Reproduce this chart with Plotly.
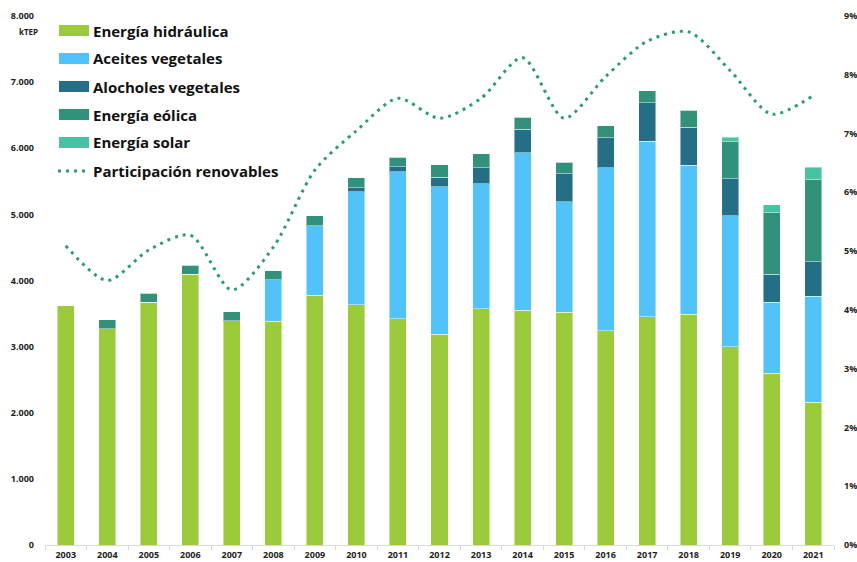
import plotly.graph_objects as go

years = [str(y) for y in range(2003, 2022)]
hidraulica = [3625, 3273, 3670, 4092, 3394, 3383, 3775, 3630, 3419, 3187, 3575, 3549, 3519, 3238, 3449, 3489, 2997, 2599, 2161]
aceites = [0, 0, 0, 0, 0, 629, 1052, 1714, 2222, 2233, 1885, 2383, 1670, 2468, 2660, 2253, 1985, 1071, 1599]
alcoholes = [0, 0, 0, 0, 0, 0, 0, 60, 80, 141, 246, 353, 427, 453, 577, 578, 558, 422, 524]
eolica = [0, 131, 141, 136, 135, 136, 150, 147, 142, 190, 211, 181, 176, 181, 181, 252, 558, 935, 1241]
solar = [0, 0, 0, 0, 0, 0, 0, 0, 0, 0, 0, 0, 0, 0, 0, 0, 71, 116, 191]
participacion = [0.0509, 0.0450, 0.0502, 0.0527, 0.0434, 0.0507, 0.0638, 0.0705, 0.0760, 0.0726, 0.0760,
                 0.0829, 0.0726, 0.0797, 0.0857, 0.0873, 0.0807, 0.0733, 0.0765]

series_names = ["Energía hidráulica", "Aceites vegetales", "Alocholes vegetales", "Energía eólica", "Energía solar"]
series_vals = [hidraulica, aceites, alcoholes, eolica, solar]
series_colors = ["#9BCB3B", "#52C3F8", "#246E86", "#31917A", "#45C3A3"]
line_name = "Participación renovables"
line_color = "#2E9A7A"
unit_label = "kTEP"

FONT = "Open Sans"
fig = go.Figure()
for name, vals, col in zip(series_names, series_vals, series_colors):
    fig.add_trace(go.Bar(x=years, y=vals, name=name, marker_color=col,
                         marker_line=dict(color="rgba(255,255,255,0.45)", width=1),
                         showlegend=False))

fig.add_trace(go.Scatter(x=years, y=participacion, name=line_name, mode="lines", yaxis="y2",
                         line=dict(color=line_color, width=3, dash="3px,5px", shape="spline", smoothing=0.8),
                         showlegend=False))

W, H = 857, 562
plot_l, plot_r, plot_t, plot_b = 45, 834, 16, 545
ml, mt, mr, mb = plot_l, plot_t, W - plot_r, H - plot_b
pw, ph = W - ml - mr, H - mt - mb

def px_to_paper(x, y):
    return (x - plot_l) / pw, 1 - (y - plot_t) / ph

shapes = []
annotations = []
centers = [30.5, 58.5, 86.5, 114.5, 142.5, 171]
legfont = dict(family=FONT, size=15, color="#111111")
for i, (name, col) in enumerate(zip(series_names, series_colors)):
    cy = centers[i]
    xa, ya = px_to_paper(59, cy - 5.5)
    xb, yb = px_to_paper(89, cy + 5.5)
    shapes.append(dict(type="rect", xref="paper", yref="paper", x0=xa, x1=xb, y0=yb, y1=ya,
                       fillcolor=col, line=dict(width=0)))
    tx, ty = px_to_paper(91, cy)
    annotations.append(dict(text="<b>" + name + "</b>", xref="paper", yref="paper", x=tx, y=ty,
                            xanchor="left", yanchor="middle", showarrow=False, font=legfont))
cy = centers[5]
xa, ya = px_to_paper(58, cy)
xb, _ = px_to_paper(88, cy)
shapes.append(dict(type="line", xref="paper", yref="paper", x0=xa, x1=xb, y0=ya, y1=ya,
                   line=dict(color=line_color, width=3, dash="3px,5px")))
tx, ty = px_to_paper(91, cy)
annotations.append(dict(text="<b>" + line_name + "</b>", xref="paper", yref="paper", x=tx, y=ty,
                        xanchor="left", yanchor="middle", showarrow=False, font=legfont))
kx, ky = px_to_paper(28, 31)
annotations.append(dict(text="<b>" + unit_label + "</b>", xref="paper", yref="paper", x=kx, y=ky,
                        xanchor="center", yanchor="middle", showarrow=False,
                        font=dict(family=FONT, size=8, color="#222222")))

tickfont = dict(family=FONT, size=9, color="#222222", weight="bold")
fig.update_layout(
    width=W, height=H,
    margin=dict(l=ml, r=mr, t=mt, b=mb, autoexpand=False),
    paper_bgcolor="white", plot_bgcolor="white",
    barmode="stack", bargap=0.59,
    separators=",.",
    showlegend=False,
    shapes=shapes, annotations=annotations,
    xaxis=dict(type="category", showgrid=False, showline=True, linecolor="#D9D9D9", linewidth=1,
               ticks="outside", tickson="boundaries", ticklen=4, tickcolor="#D9D9D9",
               tickfont=tickfont, ticklabelstandoff=1, zeroline=False, automargin=False),
    yaxis=dict(range=[0, 8000], dtick=1000, tickformat=",d", showgrid=False, zeroline=False,
               showline=False, ticks="", tickfont=tickfont, ticklabelstandoff=10, automargin=False),
    yaxis2=dict(range=[0, 0.09], dtick=0.01, tickformat=".0%", overlaying="y", side="right",
                showgrid=False, zeroline=False, showline=False, ticks="", tickfont=tickfont,
                ticklabelstandoff=9, automargin=False),
)

fig.write_html("out.html", config={"displayModeBar": False},
               post_script="document.body.style.margin='0';document.body.style.overflow='hidden';")
